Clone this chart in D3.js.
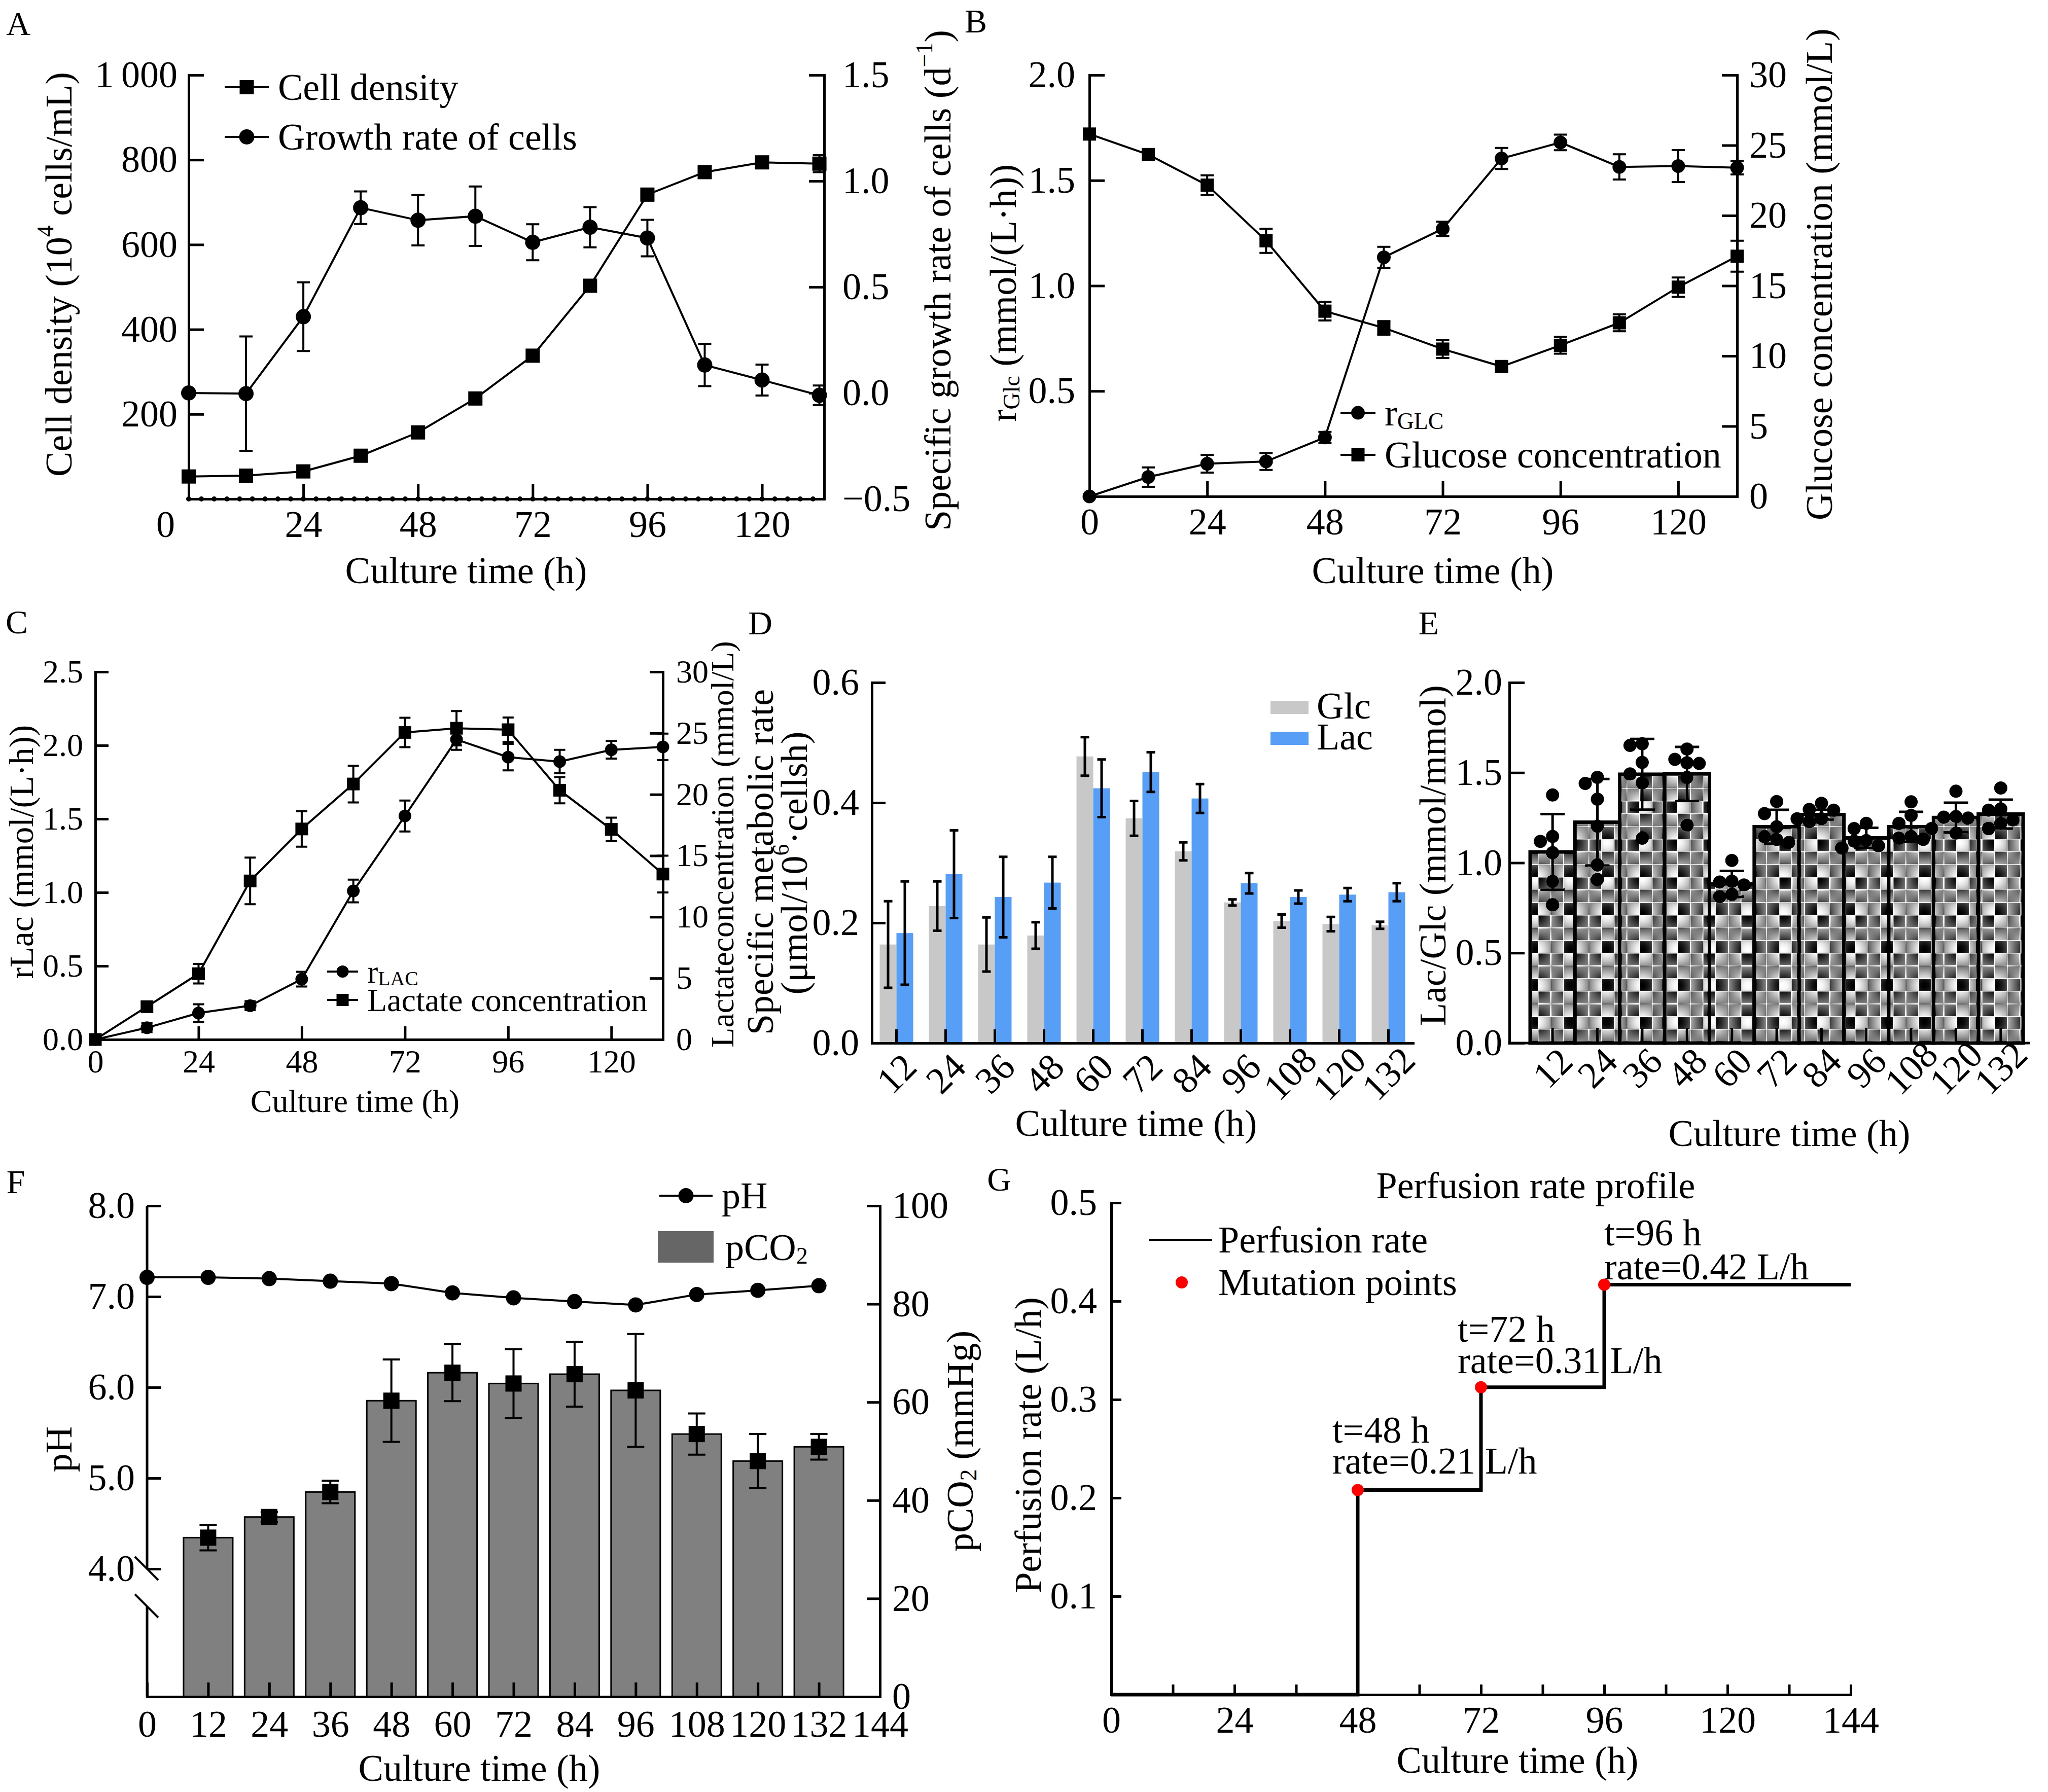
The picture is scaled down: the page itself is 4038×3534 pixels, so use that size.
<!DOCTYPE html>
<html>
<head>
<meta charset="utf-8">
<script src="https://cdn.jsdelivr.net/npm/d3@7"></script>
<style>
  body { margin: 0; background: #fff; }
  svg { display: block; }
</style>
</head>
<body>
<script>
// ---------- data ----------
const hours = [0, 12, 24, 36, 48, 60, 72, 84, 96, 108, 120, 132];
const sampleHours = [12, 24, 36, 48, 60, 72, 84, 96, 108, 120, 132];

// A: cell density (10^4 cells/mL) and specific growth rate (1/d)
const cellDensity = [53, 55, 65, 102, 157, 237, 338, 503, 718, 771, 794, 791];
const cellDensitySd = [3, 3, 4, 5, 6, 7, 8, 8, 14, 12, 8, 20];
const growthRate = [0.0, -0.003, 0.36, 0.874, 0.815, 0.834, 0.711, 0.782, 0.731, 0.132, 0.061, -0.011];
const growthRateSd = [0, 0.27, 0.162, 0.077, 0.119, 0.14, 0.085, 0.095, 0.086, 0.1, 0.073, 0.046];

// B: glucose consumption rate and glucose concentration
const rGlc = [0, 0.092, 0.155, 0.166, 0.28, 1.135, 1.27, 1.604, 1.68, 1.564, 1.568, 1.56];
const rGlcSd = [0, 0.046, 0.042, 0.04, 0.026, 0.05, 0.034, 0.05, 0.037, 0.06, 0.076, 0.032];
const glucose = [25.8, 24.34, 22.16, 18.2, 13.19, 12.0, 10.49, 9.25, 10.76, 12.36, 14.9, 17.1];
const glucoseSd = [0.3, 0.3, 0.7, 0.86, 0.66, 0.48, 0.63, 0.3, 0.6, 0.6, 0.69, 1.1];

// C: lactate production rate and lactate concentration
const rLac = [0, 0.08, 0.18, 0.23, 0.41, 1.01, 1.52, 2.04, 1.92, 1.89, 1.97, 1.99];
const rLacSd = [0, 0.03, 0.06, 0.03, 0.05, 0.077, 0.105, 0.07, 0.09, 0.08, 0.06, 0.09];
const lactate = [0, 2.68, 5.37, 12.94, 17.18, 20.85, 25.06, 25.4, 25.28, 20.34, 17.15, 13.5];
const lactateSd = [0, 0.4, 0.8, 1.9, 1.45, 1.5, 1.2, 1.4, 1.0, 1.07, 0.95, 1.5];

// D: specific metabolic rates
const glcRate = [0.164, 0.228, 0.164, 0.179, 0.477, 0.374, 0.319, 0.234, 0.203, 0.198, 0.196];
const glcRateSd = [0.072, 0.041, 0.045, 0.022, 0.032, 0.029, 0.015, 0.005, 0.011, 0.012, 0.006];
const lacRate = [0.183, 0.281, 0.243, 0.267, 0.424, 0.451, 0.407, 0.266, 0.243, 0.247, 0.251];
const lacRateSd = [0.086, 0.073, 0.067, 0.043, 0.048, 0.033, 0.024, 0.017, 0.011, 0.011, 0.015];

// E: Lac/Glc ratio, mean, sd and replicates
const ratioMean = [1.06, 1.225, 1.491, 1.493, 0.883, 1.2, 1.267, 1.138, 1.2, 1.251, 1.27];
const ratioSd = [0.21, 0.24, 0.196, 0.15, 0.072, 0.094, 0.027, 0.056, 0.083, 0.082, 0.08];
const ratioReplicates = [
  [1.376, 1.146, 1.119, 1.056, 0.896, 0.768],
  [1.44, 1.474, 1.353, 1.203, 0.988, 0.908],
  [1.651, 1.66, 1.557, 1.493, 1.443, 1.136],
  [1.555, 1.631, 1.574, 1.551, 1.474, 1.209],
  [1.013, 0.898, 0.893, 0.877, 0.812, 0.825],
  [1.34, 1.273, 1.113, 1.2, 1.146, 1.129],
  [1.244, 1.296, 1.33, 1.292, 1.244, 1.228],
  [1.219, 1.081, 1.123, 1.19, 1.094, 1.12],
  [1.263, 1.338, 1.219, 1.129, 1.146, 1.138],
  [1.253, 1.397, 1.257, 1.248, 1.165, 1.19],
  [1.299, 1.415, 1.292, 1.19, 1.238, 1.219]
];

// F: pH and pCO2
const pH = [7.212, 7.212, 7.198, 7.17, 7.143, 7.041, 6.986, 6.945, 6.908, 7.023, 7.069, 7.12];
const pCO2 = [32.4, 36.6, 41.7, 60.3, 66.0, 63.8, 65.7, 62.4, 53.5, 48.0, 50.9];
const pCO2Sd = [2.6, 1.0, 2.3, 8.4, 5.8, 7.0, 6.6, 11.5, 4.2, 5.5, 2.6];

// G: perfusion rate steps
const stepHours = [0, 48, 72, 96, 144];
const stepRates = [0, 0.208, 0.3125, 0.4167, 0.4167];
const mutationHours = [48, 72, 96];
const mutationRates = [0.208, 0.3125, 0.4167];
const mutationLabels = [['t=48 h', 'rate=0.21 L/h'], ['t=72 h', 'rate=0.31 L/h'], ['t=96 h', 'rate=0.42 L/h']];

const hourTicks = [0, 24, 48, 72, 96, 120];

// ---------- setup ----------
const W = 4038, H = 3534;
const FONT = '"Liberation Serif", "Times New Roman", Times, serif';
const FS = 74;

const svg = d3.select('body').append('svg')
  .attr('width', W).attr('height', H)
  .attr('viewBox', [0, 0, W, H]);
svg.append('rect').attr('width', W).attr('height', H).attr('fill', '#fff');

const defs = svg.append('defs');
const checker = defs.append('pattern').attr('id', 'checker')
  .attr('patternUnits', 'userSpaceOnUse').attr('width', 2).attr('height', 2);
checker.append('rect').attr('width', 2).attr('height', 2).attr('fill', '#fff');
checker.append('rect').attr('width', 1).attr('height', 1).attr('fill', '#000');
checker.append('rect').attr('x', 1).attr('y', 1).attr('width', 1).attr('height', 1).attr('fill', '#000');
const gridFill = defs.append('pattern').attr('id', 'gridFill')
  .attr('patternUnits', 'userSpaceOnUse').attr('width', 25).attr('height', 25)
  .attr('patternTransform', 'translate(7,4)');
gridFill.append('rect').attr('width', 25).attr('height', 25).attr('fill', 'url(#checker)');
gridFill.append('path').attr('d', 'M0,0.75H25M0.75,0V25').attr('stroke', '#fff').attr('stroke-width', 1.5);

// text with optional sub/superscripts: parts are strings or {sub}/{sup}
function txt(g, x, y, parts, o = {}) {
  const fs = o.fs || FS;
  const t = g.append('text')
    .attr('font-family', FONT).attr('font-size', fs).attr('fill', '#000')
    .attr('text-anchor', o.anchor || 'start')
    .attr('dominant-baseline', 'central');
  if (o.rotate) t.attr('transform', `translate(${x},${y}) rotate(${o.rotate})`);
  else t.attr('x', x).attr('y', y);
  let shift = 0;
  [].concat(parts).forEach(p => {
    if (typeof p === 'string') {
      t.append('tspan').attr('dy', -shift).text(p);
      shift = 0;
    } else {
      const s = p.sub ? 0.22 * fs : -0.36 * fs;
      t.append('tspan').attr('font-size', fs * 0.62).attr('dy', s - shift).text(p.sub || p.sup);
      shift = s;
    }
  });
  return t;
}

function axis(g, gen, tx, ty, fs = FS) {
  const a = g.append('g').attr('transform', `translate(${tx},${ty})`).call(gen);
  a.attr('font-family', FONT).attr('font-size', fs);
  a.select('.domain').attr('stroke-width', 5).attr('stroke-linecap', 'square');
  a.selectAll('.tick line').attr('stroke-width', 5);
  a.selectAll('.tick text').attr('fill', '#000');
  return a;
}

function errorBars(g, pts, cap, sw) {
  g.append('g').attr('stroke', '#000').attr('stroke-width', sw).attr('fill', 'none')
    .selectAll('path').data(pts.filter(d => d.e > 0)).join('path')
    .attr('d', d => `M${d.x - cap / 2},${d.y1}H${d.x + cap / 2}M${d.x},${d.y1}V${d.y2}M${d.x - cap / 2},${d.y2}H${d.x + cap / 2}`);
}

function markers(g, pts, shape, size) {
  if (shape === 'square') {
    g.append('g').selectAll('rect').data(pts).join('rect')
      .attr('x', d => d.x - size / 2).attr('y', d => d.y - size / 2)
      .attr('width', size).attr('height', size).attr('fill', '#000');
  } else {
    g.append('g').selectAll('circle').data(pts).join('circle')
      .attr('cx', d => d.x).attr('cy', d => d.y).attr('r', size / 2).attr('fill', '#000');
  }
}

function lineSeries(g, x, y, xs, ys, sd, o) {
  const pts = ys.map((v, i) => ({
    x: x(xs[i]), y: y(v), e: sd ? sd[i] : 0,
    y1: y(v + (sd ? sd[i] : 0)), y2: y(v - (sd ? sd[i] : 0))
  }));
  g.append('path').attr('fill', 'none').attr('stroke', '#000').attr('stroke-width', 4)
    .attr('d', d3.line().x(d => d.x).y(d => d.y)(pts));
  errorBars(g, pts, o.cap, 4);
  markers(g, pts, o.shape, o.size);
}

function legendItem(g, x1, x2, y, shape, size, parts, fs = FS) {
  g.append('line').attr('x1', x1).attr('x2', x2).attr('y1', y).attr('y2', y)
    .attr('stroke', '#000').attr('stroke-width', 4);
  markers(g, [{ x: (x1 + x2) / 2, y }], shape, size);
  txt(g, x2 + 18, y, parts, { fs });
}

const f1 = d3.format('.1f');

// ---------- A ----------
{
  const g = svg.append('g');
  const x = d3.scaleLinear([0, 133], [372, 1625]);
  const yL = d3.scaleLinear([0, 1000], [984, 148]);
  const yR = d3.scaleLinear([-0.5, 1.5], [984, 148]);
  const xa = axis(g, d3.axisBottom(x).tickValues(hourTicks).tickSizeInner(-30).tickSizeOuter(0).tickPadding(22), 0, 984);
  xa.selectAll('.tick text').filter(d => d === 0).attr('dx', -46);
  g.append('g').selectAll('circle').data(d3.range(0, 133.1, 24 / 9)).join('circle')
    .attr('cx', d => x(d)).attr('cy', 984).attr('r', 5).attr('fill', '#000');
  axis(g, d3.axisLeft(yL).tickValues([200, 400, 600, 800, 1000])
    .tickFormat(d => d === 1000 ? '1\u2009000' : d).tickSizeInner(-30).tickSizeOuter(0).tickPadding(22), 372, 0);
  axis(g, d3.axisRight(yR).tickValues([-0.5, 0, 0.5, 1.0, 1.5]).tickFormat(f1)
    .tickSizeInner(-30).tickSizeOuter(0).tickPadding(36), 1625, 0);

  lineSeries(g, x, yL, hours, cellDensity, cellDensitySd, { shape: 'square', size: 28, cap: 26 });
  lineSeries(g, x, yR, hours, growthRate, growthRateSd, { shape: 'circle', size: 30, cap: 26 });

  legendItem(g, 443, 530, 172, 'square', 28, 'Cell density');
  legendItem(g, 443, 530, 270, 'circle', 30, 'Growth rate of cells');

  txt(g, 116, 541, ['Cell density (10', { sup: '4' }, ' cells/mL)'], { rotate: -90, anchor: 'middle' });
  txt(g, 1849, 553, ['Specific growth rate of cells (d', { sup: '−1' }, ')'], { rotate: -90, anchor: 'middle' });
  txt(g, 919, 1125, 'Culture time (h)', { anchor: 'middle' });
  txt(g, 36, 46, 'A', { anchor: 'middle', fs: 66 });
}

// ---------- B ----------
{
  const g = svg.append('g');
  const x = d3.scaleLinear([0, 132], [2148, 3425]);
  const yL = d3.scaleLinear([0, 2], [979, 148]);
  const yR = d3.scaleLinear([0, 30], [979, 148]);
  axis(g, d3.axisBottom(x).tickValues(hourTicks).tickSizeInner(-30).tickSizeOuter(0).tickPadding(22), 0, 979);
  axis(g, d3.axisLeft(yL).tickValues([0.5, 1.0, 1.5, 2.0]).tickFormat(f1)
    .tickSizeInner(-30).tickSizeOuter(0).tickPadding(28), 2148, 0);
  axis(g, d3.axisRight(yR).tickValues([0, 5, 10, 15, 20, 25, 30])
    .tickSizeInner(-30).tickSizeOuter(0).tickPadding(24), 3425, 0);

  lineSeries(g, x, yR, hours, glucose, glucoseSd, { shape: 'square', size: 26, cap: 26 });
  lineSeries(g, x, yL, hours, rGlc, rGlcSd, { shape: 'circle', size: 27, cap: 26 });

  legendItem(g, 2643, 2712, 814, 'circle', 27, ['r', { sub: 'GLC' }]);
  legendItem(g, 2643, 2712, 897, 'square', 26, 'Glucose concentration');

  txt(g, 1978, 578, ['r', { sub: 'Glc' }, ' (mmol/(L·h))'], { rotate: -90, anchor: 'middle' });
  txt(g, 3587, 541, 'Glucose concentration (mmol/L)', { rotate: -90, anchor: 'middle' });
  txt(g, 2825, 1125, 'Culture time (h)', { anchor: 'middle' });
  txt(g, 1924, 41, 'B', { anchor: 'middle', fs: 66 });
}

// ---------- C ----------
{
  const fs = 64;
  const g = svg.append('g');
  const x = d3.scaleLinear([0, 132], [188, 1307]);
  const yL = d3.scaleLinear([0, 2.5], [2050, 1325]);
  const yR = d3.scaleLinear([0, 30], [2050, 1325]);
  axis(g, d3.axisBottom(x).tickValues(hourTicks).tickSizeInner(-26).tickSizeOuter(0).tickPadding(20), 0, 2050, fs);
  axis(g, d3.axisLeft(yL).tickValues([0, 0.5, 1.0, 1.5, 2.0, 2.5]).tickFormat(f1)
    .tickSizeInner(-26).tickSizeOuter(0).tickPadding(24), 188, 0, fs);
  axis(g, d3.axisRight(yR).tickValues([0, 5, 10, 15, 20, 25, 30])
    .tickSizeInner(-26).tickSizeOuter(0).tickPadding(26), 1307, 0, fs);

  lineSeries(g, x, yR, hours, lactate, lactateSd, { shape: 'square', size: 25, cap: 22 });
  lineSeries(g, x, yL, hours, rLac, rLacSd, { shape: 'circle', size: 25, cap: 22 });

  legendItem(g, 645, 706, 1916, 'circle', 24, ['r', { sub: 'LAC' }], fs);
  legendItem(g, 645, 706, 1972, 'square', 24, 'Lactate concentration', fs);

  txt(g, 42, 1680, 'rLac (mmol/(L·h))', { rotate: -90, anchor: 'middle', fs: 67 });
  txt(g, 1424, 1665, 'Lactateconcentration (mmol/L)', { rotate: -90, anchor: 'middle', fs });
  txt(g, 700, 2171, 'Culture time (h)', { anchor: 'middle', fs });
  txt(g, 33, 1226, 'C', { anchor: 'middle', fs: 66 });
}

// ---------- D ----------
{
  const g = svg.append('g');
  const x = d3.scaleBand(sampleHours, [1719, 2786]);
  const y = d3.scaleLinear([0, 0.6], [2057, 1346]);
  const bw = 33;
  const series = [
    { vals: glcRate, sd: glcRateSd, color: '#c8c8c8', dx: -bw },
    { vals: lacRate, sd: lacRateSd, color: '#579ff6', dx: 0 }
  ];
  series.forEach(s => {
    g.append('g').selectAll('rect').data(s.vals).join('rect')
      .attr('x', (d, i) => x(sampleHours[i]) + x.bandwidth() / 2 + s.dx)
      .attr('y', d => y(d)).attr('width', bw).attr('height', d => y(0) - y(d))
      .attr('fill', s.color);
  });
  series.forEach(s => {
    errorBars(g, s.vals.map((v, i) => ({
      x: x(sampleHours[i]) + x.bandwidth() / 2 + s.dx + bw / 2,
      e: s.sd[i], y1: y(v + s.sd[i]), y2: y(v - s.sd[i])
    })), 17, 5);
  });
  axis(g, d3.axisBottom(x).tickSizeInner(-27).tickSizeOuter(0).tickFormat(''), 0, 2057);
  sampleHours.forEach(h => txt(g, x(h) + x.bandwidth() / 2, 2117, String(h), { anchor: 'middle', rotate: -45 }));
  axis(g, d3.axisLeft(y).tickValues([0, 0.2, 0.4, 0.6]).tickFormat(f1)
    .tickSizeInner(-27).tickSizeOuter(0).tickPadding(25), 1719, 0);

  g.append('rect').attr('x', 2505).attr('y', 1382).attr('width', 75).attr('height', 26).attr('fill', '#c8c8c8');
  g.append('rect').attr('x', 2505).attr('y', 1443).attr('width', 75).attr('height', 26).attr('fill', '#579ff6');
  txt(g, 2596, 1392, 'Glc');
  txt(g, 2596, 1453, 'Lac');

  txt(g, 1499, 1700, 'Specific metabolic rate', { rotate: -90, anchor: 'middle' });
  txt(g, 1566, 1702, ['(μmol/10', { sup: '6' }, '·cellsh)'], { rotate: -90, anchor: 'middle' });
  txt(g, 2240, 2215, 'Culture time (h)', { anchor: 'middle' });
  txt(g, 1499, 1228, 'D', { anchor: 'middle', fs: 66 });
}

// ---------- E ----------
{
  const g = svg.append('g');
  const x = d3.scaleBand(sampleHours, [3017, 3989]);
  const y = d3.scaleLinear([0, 2], [2057, 1346]);
  g.append('g').selectAll('rect').data(ratioMean).join('rect')
    .attr('x', (d, i) => x(sampleHours[i])).attr('y', d => y(d))
    .attr('width', x.bandwidth()).attr('height', d => y(0) - y(d))
    .attr('fill', 'url(#gridFill)').attr('stroke', '#000').attr('stroke-width', 7);
  const xa = axis(g, d3.axisBottom(x).tickSizeInner(-30).tickSizeOuter(0).tickFormat(''), 0, 2057);
  xa.select('.domain').attr('d', 'M2976,0H4000');
  sampleHours.forEach(h => txt(g, x(h) + x.bandwidth() / 2, 2106, String(h), { anchor: 'middle', rotate: -45 }));
  axis(g, d3.axisLeft(y).tickValues([0, 0.5, 1.0, 1.5, 2.0]).tickFormat(f1)
    .tickSizeInner(-30).tickSizeOuter(0).tickPadding(14), 2976, 0);

  errorBars(g, ratioMean.map((v, i) => ({
    x: x(sampleHours[i]) + x.bandwidth() / 2, e: ratioSd[i],
    y1: y(v + ratioSd[i]), y2: y(v - ratioSd[i])
  })), 48, 5);

  // simple beeswarm so replicate dots do not pile up
  const r = 13, step = 24;
  ratioReplicates.forEach((vals, gi) => {
    const cx = x(sampleHours[gi]) + x.bandwidth() / 2;
    const placed = [];
    const order = vals.map((v, i) => i).sort((a, b) => vals[b] - vals[a]);
    order.forEach(i => {
      const py = y(vals[i]);
      for (let k = 0; k < 12; k++) {
        const o = (k % 2 ? -1 : 1) * Math.ceil(k / 2) * step;
        if (placed.every(p => Math.hypot(p.o - o, p.y - py) >= step)) {
          placed.push({ o, y: py });
          break;
        }
      }
    });
    g.append('g').selectAll('circle').data(placed).join('circle')
      .attr('cx', d => cx + d.o).attr('cy', d => d.y).attr('r', r).attr('fill', '#000');
  });

  txt(g, 2825, 1687, 'Lac/Glc (mmol/mmol)', { rotate: -90, anchor: 'middle' });
  txt(g, 3528, 2235, 'Culture time (h)', { anchor: 'middle' });
  txt(g, 2817, 1228, 'E', { anchor: 'middle', fs: 66 });
}

// ---------- F ----------
{
  const g = svg.append('g');
  const x = d3.scaleLinear([0, 144], [290, 1735]);
  const yPH = d3.scaleLinear([4, 8], [3094, 2378]);
  const yC = d3.scaleLinear([0, 100], [3346, 2378]);
  const bw = 97;

  g.append('g').selectAll('rect').data(pCO2).join('rect')
    .attr('x', (d, i) => x(sampleHours[i]) - bw / 2).attr('y', d => yC(d))
    .attr('width', bw).attr('height', d => yC(0) - yC(d))
    .attr('fill', '#808080').attr('stroke', '#000').attr('stroke-width', 3);
  const cpts = pCO2.map((v, i) => ({
    x: x(sampleHours[i]), y: yC(v), e: pCO2Sd[i], y1: yC(v + pCO2Sd[i]), y2: yC(v - pCO2Sd[i])
  }));
  errorBars(g, cpts, 34, 4);
  markers(g, cpts, 'square', 32);

  axis(g, d3.axisBottom(x).tickValues(d3.range(0, 145, 12)).tickSizeInner(-28).tickSizeOuter(0).tickPadding(26), 0, 3346);
  const la = axis(g, d3.axisLeft(yPH).tickValues([4, 5, 6, 7, 8]).tickFormat(f1)
    .tickSizeInner(-28).tickSizeOuter(0).tickPadding(24), 290, 0);
  la.select('.domain').remove();
  // broken pH axis below 4.0
  g.append('path').attr('stroke', '#000').attr('stroke-width', 5).attr('fill', 'none')
    .attr('d', `M290,2378V${yPH(4)}M290,${yPH(4) + 74}V3346`);
  g.append('path').attr('stroke', '#000').attr('stroke-width', 4).attr('fill', 'none')
    .attr('d', `M266,${yPH(4) - 24}l46,46M266,${yPH(4) + 50}l46,46`);
  axis(g, d3.axisRight(yC).tickValues([0, 20, 40, 60, 80, 100])
    .tickSizeInner(-26).tickSizeOuter(0).tickPadding(24), 1735, 0);

  lineSeries(g, x, yPH, hours, pH, null, { shape: 'circle', size: 30, cap: 0 });

  legendItem(g, 1300, 1405, 2358, 'circle', 30, 'pH');
  g.append('rect').attr('x', 1297).attr('y', 2428).attr('width', 110).attr('height', 62).attr('fill', '#666');
  txt(g, 1430, 2460, ['pCO', { sub: '2' }]);

  txt(g, 116, 2858, 'pH', { rotate: -90, anchor: 'middle' });
  txt(g, 1893, 2842, ['pCO', { sub: '2' }, ' (mmHg)'], { rotate: -90, anchor: 'middle' });
  txt(g, 945, 3487, 'Culture time (h)', { anchor: 'middle' });
  txt(g, 31, 2330, 'F', { anchor: 'middle', fs: 66 });
}

// ---------- G ----------
{
  const g = svg.append('g');
  const x = d3.scaleLinear([0, 144], [2191, 3649]);
  const y = d3.scaleLinear([0, 0.5], [3342, 2372]);
  axis(g, d3.axisBottom(x).tickValues(d3.range(0, 145, 12)).tickFormat(d => d % 24 === 0 ? d : '')
    .tickSizeInner(-20).tickSizeOuter(0).tickPadding(22), 0, 3342);
  axis(g, d3.axisLeft(y).tickValues([0.1, 0.2, 0.3, 0.4, 0.5]).tickFormat(f1)
    .tickSizeInner(-20).tickSizeOuter(0).tickPadding(28), 2191, 0);

  g.append('path').attr('fill', 'none').attr('stroke', '#000').attr('stroke-width', 7)
    .attr('d', d3.line().curve(d3.curveStepAfter).x((d, i) => x(stepHours[i])).y(d => y(d))(stepRates));
  g.append('g').selectAll('circle').data(mutationRates).join('circle')
    .attr('cx', (d, i) => x(mutationHours[i])).attr('cy', d => y(d)).attr('r', 12).attr('fill', '#f00');

  // label placement relative to each mutation point
  const labelOffsets = [[-50, -118, -57], [-46, -115, -53], [0, -103, -36]];
  mutationLabels.forEach((lines, i) => {
    const px = x(mutationHours[i]), py = y(mutationRates[i]);
    const [dx, dy1, dy2] = labelOffsets[i];
    txt(g, px + dx, py + dy1, lines[0]);
    txt(g, px + dx, py + dy2, lines[1]);
  });

  g.append('line').attr('x1', 2266).attr('x2', 2390).attr('y1', 2445).attr('y2', 2445)
    .attr('stroke', '#000').attr('stroke-width', 4);
  txt(g, 2402, 2445, 'Perfusion rate');
  g.append('circle').attr('cx', 2330).attr('cy', 2529).attr('r', 12).attr('fill', '#f00');
  txt(g, 2402, 2529, 'Mutation points');

  txt(g, 3028, 2338, 'Perfusion rate profile', { anchor: 'middle' });
  txt(g, 2027, 2850, 'Perfusion rate (L/h)', { rotate: -90, anchor: 'middle' });
  txt(g, 2992, 3471, 'Culture time (h)', { anchor: 'middle' });
  txt(g, 1970, 2325, 'G', { anchor: 'middle', fs: 66 });
}
</script>
</body>
</html>
